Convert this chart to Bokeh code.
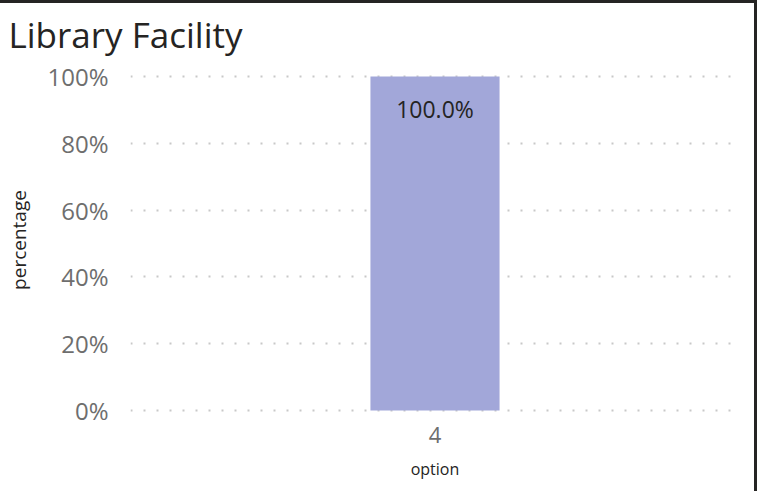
from bokeh.plotting import figure
from bokeh.models import Range1d, FixedTicker, PrintfTickFormatter, ColumnDataSource
from bokeh.core.properties import value
from bokeh.embed import file_html
from bokeh.resources import INLINE

# ---- data ----
categories = ["4"]
percentages = [100.0]
bar_labels = ["100.0%"]
y_ticks = [0, 20, 40, 60, 80, 100]
chart_title = "Library Facility"

source = ColumnDataSource(dict(cat=categories, pct=percentages, lbl=bar_labels))

p = figure(
    x_range=categories,
    y_range=Range1d(-0.9, 103.0),
    width=757, height=491,
    output_backend="svg", toolbar_location=None,
    min_border_left=130, min_border_right=18,
    min_border_top=63, min_border_bottom=81,
    title=chart_title,
    styles={"border-top": "3px solid #252423", "border-right": "3px solid #252423"},
)
p.outline_line_color = None
p.background_fill_color = "white"
p.border_fill_color = "white"

p.title.text_font = "Open Sans"
p.title.text_font_size = "35px"
p.title.text_font_style = "normal"
p.title.text_color = "#252423"
p.title.align = "left"
p.title.vertical_align = "top"
p.title.offset = -122
p.title.standoff = 14
p.title.text_line_height = 0.8

p.vbar(x="cat", top="pct", bottom=0, width=0.212, source=source,
       fill_color="#a2a7d9", line_color=None)

p.text(x="cat", y="pct", text="lbl", source=source,
       text_align="center", text_baseline="middle", y_offset=32,
       text_font=value("Open Sans"), text_font_size="23px", text_color="#252423")

# grid
p.xgrid.grid_line_color = None
p.ygrid.grid_line_color = "#c8c8c8"
p.ygrid.grid_line_dash = "2 11"
p.ygrid.grid_line_width = 2
p.ygrid.ticker = FixedTicker(ticks=y_ticks)

# y axis
p.yaxis.ticker = FixedTicker(ticks=y_ticks)
p.yaxis.formatter = PrintfTickFormatter(format="%d%%")
p.yaxis.axis_line_color = None
p.yaxis.major_tick_line_color = None
p.yaxis.minor_tick_line_color = None
p.yaxis.major_label_standoff = 16
p.yaxis.major_label_text_font = "Open Sans"
p.yaxis.major_label_text_font_size = "24px"
p.yaxis.major_label_text_color = "#6e6e6e"
p.yaxis.axis_label = "percentage"
p.yaxis.axis_label_text_font = "Open Sans"
p.yaxis.axis_label_text_font_size = "19px"
p.yaxis.axis_label_text_font_style = "normal"
p.yaxis.axis_label_text_color = "#252423"
p.yaxis.axis_label_standoff = 12

# x axis
p.xaxis.axis_line_color = None
p.xaxis.major_tick_line_color = None
p.xaxis.minor_tick_line_color = None
p.xaxis.major_label_standoff = 7
p.xaxis.major_label_text_font = "Open Sans"
p.xaxis.major_label_text_font_size = "22px"
p.xaxis.major_label_text_color = "#6e6e6e"
p.xaxis.axis_label = "option"
p.xaxis.axis_label_text_font = "Open Sans"
p.xaxis.axis_label_text_font_size = "16px"
p.xaxis.axis_label_text_font_style = "normal"
p.xaxis.axis_label_text_color = "#252423"
p.xaxis.axis_label_standoff = 12

open("out.html", "w").write(file_html(p, INLINE))
